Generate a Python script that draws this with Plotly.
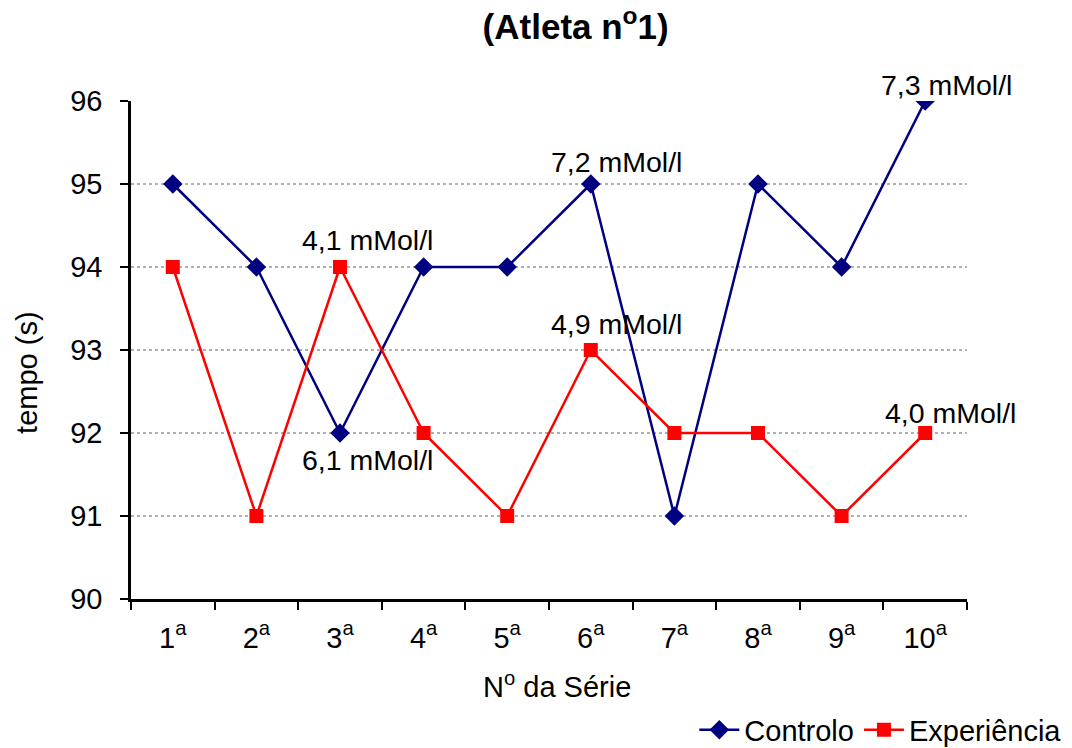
import plotly.graph_objects as go

# Series (tempo em segundos por série)
series = ["1<sup>a</sup>", "2<sup>a</sup>", "3<sup>a</sup>", "4<sup>a</sup>", "5<sup>a</sup>",
          "6<sup>a</sup>", "7<sup>a</sup>", "8<sup>a</sup>", "9<sup>a</sup>", "10<sup>a</sup>"]
controlo = [95, 94, 92, 94, 94, 95, 91, 95, 94, 96]
experiencia = [94, 91, 94, 92, 91, 93, 92, 92, 91, 92]

# Lactate readings attached to selected points: (series index, which line, text, x/y offsets)
lactato_idx = [5, 9, 2, 2, 5, 9]
lactato_serie = ["c", "c", "c", "e", "e", "e"]
lactato_txt = ["7,2 mMol/l", "7,3 mMol/l", "6,1 mMol/l", "4,1 mMol/l", "4,9 mMol/l", "4,0 mMol/l"]
lactato_dx = [26, 21, 27, 27, 26, 25]
lactato_dy = [22, 16, -27, 27, 26, 20]

grid_vals = [91, 92, 93, 94, 95]

FONT = "Liberation Sans, Arial, sans-serif"
FS = 29
NAVY = "#000080"
RED = "#FF0000"

fig = go.Figure()
fig.add_trace(go.Scatter(
    x=series, y=controlo, name="Controlo", mode="lines+markers",
    line=dict(color=NAVY, width=2.5),
    marker=dict(symbol="diamond", size=15, color=NAVY),
))
fig.add_trace(go.Scatter(
    x=series, y=experiencia, name="Experiência", mode="lines+markers",
    line=dict(color=RED, width=2.5),
    marker=dict(symbol="square", size=14, color=RED),
))

for i, s, t, dx, dy in zip(lactato_idx, lactato_serie, lactato_txt, lactato_dx, lactato_dy):
    yv = controlo[i] if s == "c" else experiencia[i]
    fig.add_annotation(x=series[i], y=yv, text=t, showarrow=False,
                       xshift=dx, yshift=dy, yanchor="middle", xanchor="center",
                       font=dict(family=FONT, size=FS - 0.5, color="black"))

# Axis titles
fig.add_annotation(xref="paper", yref="paper", x=-0.1244, y=0.454, text="tempo (s)",
                   textangle=-90, showarrow=False, xanchor="center", yanchor="middle",
                   font=dict(family=FONT, size=FS, color="black"))
fig.add_annotation(xref="paper", yref="paper", x=0.5096, y=-0.172, text="N<sup>o</sup> da Série",
                   showarrow=False, xanchor="center", yanchor="middle",
                   font=dict(family=FONT, size=FS, color="black"))

for g in grid_vals:
    fig.add_shape(type="line", xref="paper", x0=0, x1=1, yref="y", y0=g, y1=g,
                  line=dict(color="#606060", width=1, dash="dot"), layer="below")

fig.update_layout(
    width=1072, height=748,
    margin=dict(l=131, r=105, t=101, b=149, autoexpand=False),
    paper_bgcolor="white", plot_bgcolor="white",
    font=dict(family=FONT, size=FS, color="black"),
    title=dict(text="<b>(Atleta n<sup>o</sup>1)</b>", x=0.537, xanchor="center",
               y=0.964, yanchor="middle",
               font=dict(family=FONT, size=35, color="black")),
    showlegend=True,
    legend=dict(orientation="h", x=1.12, xanchor="right", y=-0.263, yanchor="middle",
                font=dict(family=FONT, size=FS), bgcolor="rgba(0,0,0,0)",
                itemwidth=40, tracegroupgap=0),
    xaxis=dict(
        type="category", range=[-0.5, 9.5], tickson="boundaries",
        ticks="outside", ticklen=8, tickwidth=2, tickcolor="black",
        showline=True, linecolor="black", linewidth=2.5, showgrid=False,
        zeroline=False, tickfont=dict(family=FONT, size=FS),
        ticklabelstandoff=11, automargin=False,
    ),
    yaxis=dict(
        range=[90, 96], dtick=1, tick0=90,
        ticks="outside", ticklen=8, tickwidth=2, tickcolor="black",
        showline=True, linecolor="black", linewidth=2.5, showgrid=False,
        zeroline=False, tickfont=dict(family=FONT, size=FS),
        ticklabelstandoff=12, automargin=False,
    ),
)

fig.write_html("out.html")
